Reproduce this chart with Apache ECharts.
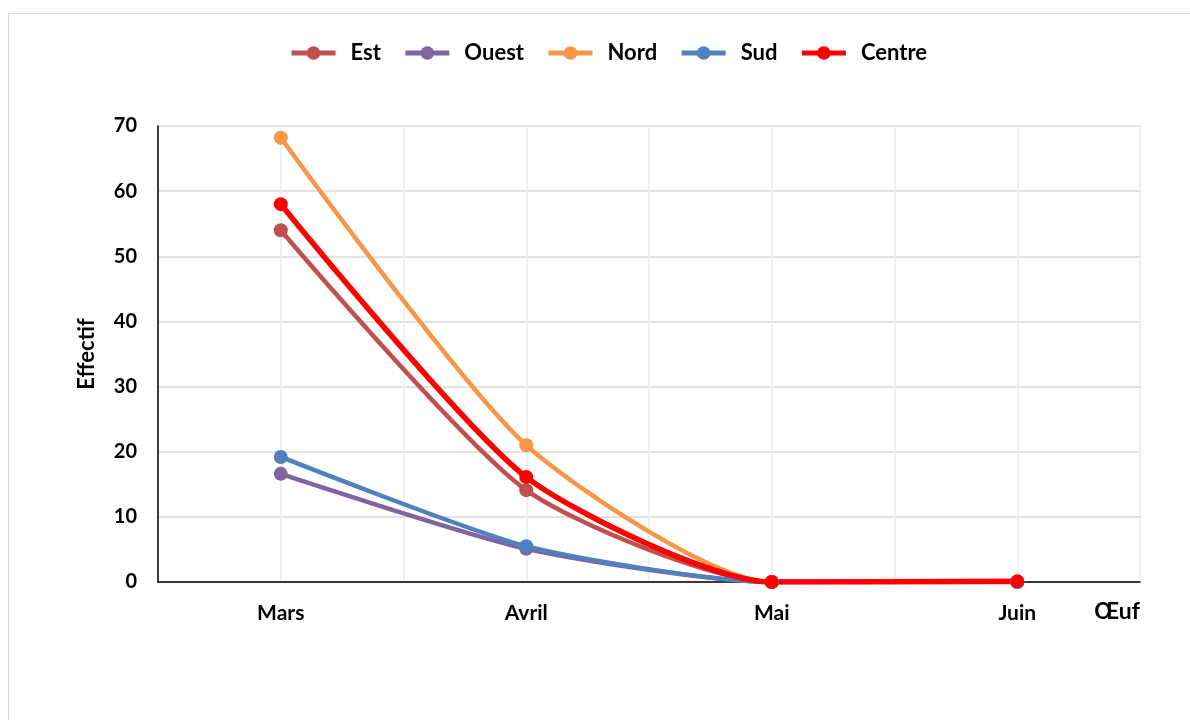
<!DOCTYPE html>
<html>
<head>
<meta charset="utf-8">
<script src="https://cdn.jsdelivr.net/npm/echarts@6/dist/echarts.min.js"></script>
<style>html,body{margin:0;padding:0;background:#fff}#c{width:1190px;height:720px}</style>
</head>
<body>
<div id="c"></div>
<script>
const categories = ['Mars', 'Avril', 'Mai', 'Juin'];
const est = [54, 14.1, 0, 0];
const ouest = [16.6, 5.1, 0, 0];
const nord = [68.2, 21, 0, 0];
const sud = [19.2, 5.5, 0, 0];
const centre = [58, 16.1, 0, 0.1];
const yTicks = [0, 10, 20, 30, 40, 50, 60, 70];

const FONT = 'Lato, "Open Sans", sans-serif';
function line(name, data, color, width) {
  return {
    name: name, type: 'line', data: data, smooth: 0.22,
    xAxisIndex: 0, yAxisIndex: 0,
    symbol: 'circle', symbolSize: 14,
    lineStyle: { color: color, width: width },
    itemStyle: { color: color },
    emphasis: { disabled: true }
  };
}
const chart = echarts.init(document.getElementById('c'));
chart.setOption({
  animation: false,
  backgroundColor: '#fff',
  graphic: [{
    type: 'rect', shape: { x: 8.5, y: 13.5, width: 1200, height: 720 },
    style: { fill: 'none', stroke: '#d9d9d9', lineWidth: 1 }, silent: true, z: -1
  }],
  legend: {
    top: 37, left: 284, itemWidth: 44, itemHeight: 17, itemGap: 22,
    lineStyle: { width: 5 },
    textStyle: { fontFamily: FONT, fontWeight: 'bold', fontSize: 22, color: '#000', padding: [0, 0, 0, 10] },
    data: ['Est', 'Ouest', 'Nord', 'Sud', 'Centre']
  },
  grid: { left: 158, right: 50, top: 126, bottom: 138 },
  xAxis: [{
    type: 'category', data: categories, boundaryGap: true,
    axisLine: { lineStyle: { color: '#000', width: 1.5 } },
    axisTick: { show: false },
    splitLine: { show: false },
    axisLabel: { margin: 21, fontFamily: FONT, fontWeight: 'bold', fontSize: 21, color: '#000' },
    name: 'Œuf', nameLocation: 'end', nameGap: 0,
    nameTextStyle: { fontFamily: FONT, fontWeight: 'bold', fontSize: 23, color: '#000',
      align: 'right', verticalAlign: 'top', padding: [18, 0, 0, 0] }
  }, {
    type: 'value', min: 0, max: 8, interval: 1, position: 'bottom',
    axisLine: { show: false }, axisTick: { show: false }, axisLabel: { show: false },
    splitLine: { show: true, lineStyle: { color: '#ebebeb', width: 1.5 } }
  }],
  yAxis: {
    type: 'value', min: 0, max: 70, interval: 10,
    axisLine: { show: true, lineStyle: { color: '#000', width: 1.5 } },
    axisTick: { show: false },
    splitLine: { lineStyle: { color: '#d9d9d9', width: 1.5 } },
    axisLabel: { margin: 21, fontFamily: FONT, fontWeight: 'bold', fontSize: 20, color: '#000',
      formatter: v => yTicks.includes(v) ? String(v) : '' },
    name: 'Effectif', nameLocation: 'middle', nameGap: 60, nameRotate: 90,
    nameTextStyle: { fontFamily: FONT, fontWeight: 'bold', fontSize: 22, color: '#000' }
  },
  series: [
    line('Est', est, '#c0504d', 4.5),
    line('Ouest', ouest, '#8064a2', 4.5),
    line('Nord', nord, '#f79646', 4.5),
    line('Sud', sud, '#4f81bd', 4.5),
    line('Centre', centre, '#ff0000', 5.5)
  ]
});
</script>
</body>
</html>
